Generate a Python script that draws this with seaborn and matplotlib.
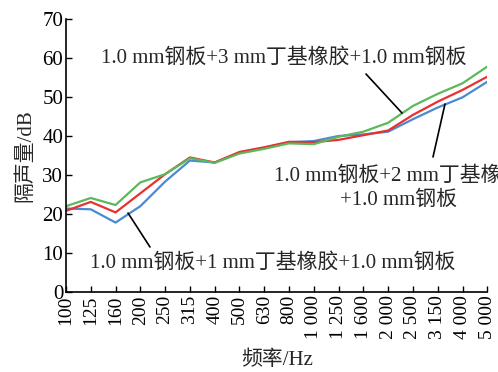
import matplotlib
matplotlib.use("Agg")
import matplotlib.pyplot as plt
import seaborn as sns
import pandas as pd

# 1/3 octave band centre frequencies
freq_labels = ["100", "125", "160", "200", "250", "315", "400", "500", "630", "800",
               "1 000", "1 250", "1 600", "2 000", "2 500", "3 150", "4 000", "5 000"]

# sound transmission loss, dB
stl_1mm = [21.5, 21.3, 17.9, 22.1, 28.4, 33.8, 33.3, 35.8, 37.1, 38.5,
           38.8, 40.1, 40.5, 41.2, 44.4, 47.4, 50.0, 54.0]
stl_2mm = [20.9, 23.2, 20.5, 25.4, 30.3, 34.6, 33.3, 36.0, 37.2, 38.6,
           38.5, 39.1, 40.3, 41.5, 45.5, 48.9, 51.9, 55.3]
stl_3mm = [22.1, 24.2, 22.4, 28.2, 30.3, 34.4, 33.2, 35.6, 36.8, 38.2,
           38.0, 39.9, 41.2, 43.5, 47.8, 50.9, 53.6, 57.9]

series_names = ["1 mm", "2 mm", "3 mm"]
colors = ["#4a8ad4", "#e8312f", "#5cb85c"]

sns.set_style("ticks")
fam = ["Liberation Serif", "Noto Sans CJK SC"]
plt.rcParams["font.family"] = fam
plt.rcParams["axes.unicode_minus"] = False

rows = []
for name, vals in zip(series_names, [stl_1mm, stl_2mm, stl_3mm]):
    for i, v in enumerate(vals):
        rows.append({"idx": i, "stl": v, "series": name})
df = pd.DataFrame(rows)

fig = plt.figure(figsize=(4.98, 3.72), dpi=100)
ax = fig.add_axes([0.1325, 0.214, 0.846, 0.734])

sns.lineplot(data=df, x="idx", y="stl", hue="series", palette=colors,
             hue_order=series_names, linewidth=1.6, legend=False, ax=ax)

ax.set_xlim(0, len(freq_labels) - 1)
ax.set_ylim(0, 70)
ax.set_yticks(range(0, 71, 10))
ax.set_xticks(range(len(freq_labels)))
ax.set_xticklabels(freq_labels, rotation=90, fontsize=14)
ax.tick_params(axis="y", labelsize=15)
ax.tick_params(direction="in", length=4, width=1, pad=2, colors="black")
for s in ["top", "right"]:
    ax.spines[s].set_visible(False)
for s in ["left", "bottom"]:
    ax.spines[s].set_linewidth(1.2)
    ax.spines[s].set_color("black")

ax.set_xlabel("频率/Hz", fontsize=15, labelpad=8)
ax.set_ylabel("隔声量/dB", fontsize=15, labelpad=5)

# annotations with leader lines (pixel coords via figure fraction)
def fx(px):
    return px / 498

def fy(py):
    return 1 - py / 372

txt_kw = dict(fontsize=15, ha="center", va="center", family=fam)
fig.text(fx(284), fy(58), "1.0 mm钢板+3 mm丁基橡胶+1.0 mm钢板", **txt_kw)
fig.text(fx(398), fy(188), "1.0 mm钢板+2 mm丁基橡胶\n+1.0 mm钢板", linespacing=1.3, **txt_kw)
fig.text(fx(273), fy(263), "1.0 mm钢板+1 mm丁基橡胶+1.0 mm钢板", **txt_kw)

line_kw = dict(color="black", linewidth=1.2, transform=fig.transFigure)
fig.add_artist(plt.Line2D([fx(366), fx(402)], [fy(74), fy(113)], **line_kw))
fig.add_artist(plt.Line2D([fx(433), fx(445)], [fy(157), fy(104)], **line_kw))
fig.add_artist(plt.Line2D([fx(150), fx(128)], [fy(247), fy(213)], **line_kw))

fig.savefig("out.png", dpi=100)
